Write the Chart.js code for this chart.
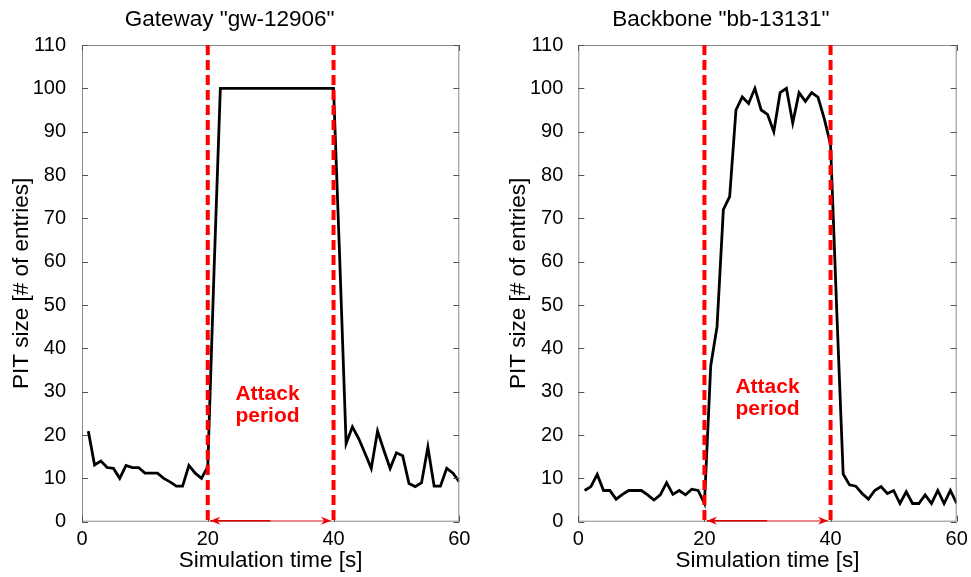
<!DOCTYPE html>
<html>
<head>
<meta charset="utf-8">
<script src="https://cdn.jsdelivr.net/npm/chart.js@4.4.1/dist/chart.umd.min.js"></script>
<style>
  html, body { margin: 0; padding: 0; background: #fff; }
  #wrap { position: relative; width: 971px; height: 577px; overflow: hidden; }
  .box { position: absolute; top: 0; height: 577px; }
</style>
</head>
<body>
<div id="wrap">
  <div class="box" style="left:0;width:485px"><canvas id="gwChart"></canvas></div>
  <div class="box" style="left:485px;width:486px"><canvas id="bbChart"></canvas></div>
</div>
<script>
// simulation time axis (seconds)
const simTime = [1, 2, 3, 4, 5, 6, 7, 8, 9, 10, 11, 12, 13, 14, 15, 16, 17, 18, 19, 20,
  21, 22, 23, 24, 25, 26, 27, 28, 29, 30, 31, 32, 33, 34, 35, 36, 37, 38, 39, 40,
  41, 42, 43, 44, 45, 46, 47, 48, 49, 50, 51, 52, 53, 54, 55, 56, 57, 58, 59, 60];

// PIT size, gateway gw-12906
const gwPitSize = [20.9, 13.1, 14, 12.5, 12.3, 10, 13, 12.5, 12.5, 11.2, 11.2, 11.2, 10, 9.2, 8.2, 8.2, 13, 11.2, 10, 12.7,
  58, 100, 100, 100, 100, 100, 100, 100, 100, 100, 100, 100, 100, 100, 100, 100, 100, 100, 100, 100,
  60, 18, 21.9, 19.2, 15.8, 12.3, 20.9, 16.5, 12.3, 15.9, 15.2, 8.8, 8.1, 9, 17.2, 8.2, 8.2, 12.3, 11.2, 9.2];

// PIT size, backbone bb-13131
const bbPitSize = [7.2, 8.1, 10.9, 7.2, 7.2, 5.2, 6.3, 7.2, 7.2, 7.2, 6.2, 5, 6.2, 9, 6.3, 7.2, 6.2, 7.5, 7.2, 4.2,
  36, 45, 72, 75, 95, 98, 96.5, 100, 95, 94, 90, 99, 100, 92, 99, 97, 99, 98, 93, 87,
  48, 11, 8.5, 8.2, 6.5, 5.2, 7.2, 8.1, 6.5, 7.2, 4.2, 6.9, 4.2, 4.2, 6.2, 4.2, 7.2, 4.2, 7.2, 4.2];

const xTicks = [0, 20, 40, 60];
const yTicks = [0, 10, 20, 30, 40, 50, 60, 70, 80, 90, 100, 110];
const attackStart = 20;
const attackEnd = 40;

const FONT = '"Liberation Sans", Arial, sans-serif';

// frame, inward ticks, attack markers, arrow and label
const attackPlugin = {
    id: 'attack',
    afterDatasetsDraw(chart, args, opts) {
        const { ctx, chartArea: a, scales: { x, y } } = chart;
        ctx.save();

        // box frame
        ctx.strokeStyle = '#8a8a8a';
        ctx.lineWidth = 1;
        ctx.strokeRect(a.left + 0.5, a.top + 0.5, a.width - 1, a.height - 1);

        // inward tick marks
        ctx.strokeStyle = '#555';
        ctx.beginPath();
        yTicks.forEach(v => {
            const py = Math.round(y.getPixelForValue(v)) + 0.5;
            ctx.moveTo(a.left, py); ctx.lineTo(a.left + 6, py);
            ctx.moveTo(a.right, py); ctx.lineTo(a.right - 6, py);
        });
        xTicks.forEach(v => {
            const px = Math.round(x.getPixelForValue(v)) + 0.5;
            ctx.moveTo(px, a.bottom); ctx.lineTo(px, a.bottom - 6);
            ctx.moveTo(px, a.top); ctx.lineTo(px, a.top + 6);
        });
        ctx.stroke();

        // dashed attack boundaries
        ctx.strokeStyle = '#ff0000';
        ctx.lineWidth = 4;
        ctx.setLineDash([10, 5]);
        [attackStart, attackEnd].forEach(v => {
            const px = x.getPixelForValue(v);
            ctx.beginPath();
            ctx.moveTo(px, a.top);
            ctx.lineTo(px, a.bottom);
            ctx.stroke();
        });
        ctx.setLineDash([]);

        // double arrow along the bottom
        const x1 = x.getPixelForValue(attackStart) + 2.5;
        const x2 = x.getPixelForValue(attackEnd) - 2.5;
        const xm = (x1 + x2) / 2;
        const ay = a.bottom - 1;
        ctx.lineWidth = 1.5;
        ctx.strokeStyle = '#e00000';
        ctx.beginPath(); ctx.moveTo(x1, ay); ctx.lineTo(xm, ay); ctx.stroke();
        ctx.strokeStyle = '#ff8080';
        ctx.beginPath(); ctx.moveTo(xm, ay); ctx.lineTo(x2, ay); ctx.stroke();
        ctx.fillStyle = '#ee0000';
        ctx.beginPath();
        ctx.moveTo(x1, ay); ctx.lineTo(x1 + 10, ay - 4); ctx.lineTo(x1 + 7, ay); ctx.lineTo(x1 + 10, ay + 4);
        ctx.closePath(); ctx.fill();
        ctx.beginPath();
        ctx.moveTo(x2, ay); ctx.lineTo(x2 - 10, ay - 4); ctx.lineTo(x2 - 7, ay); ctx.lineTo(x2 - 10, ay + 4);
        ctx.closePath(); ctx.fill();

        // label
        ctx.fillStyle = '#ff0000';
        ctx.font = 'bold 21px ' + FONT;
        ctx.textAlign = 'center';
        ctx.textBaseline = 'alphabetic';
        const lx = x.getPixelForValue(opts.labelX);
        const ly = y.getPixelForValue(opts.labelY);
        ctx.fillText('Attack', lx, ly);
        ctx.fillText('period', lx, ly + 22);

        ctx.restore();
    }
};

function makeChart(id, title, values, o) {
    const ctx = document.getElementById(id);
    return new Chart(ctx, {
        type: 'line',
        data: {
            datasets: [{
                data: simTime.map((t, i) => ({ x: t, y: values[i] })),
                borderColor: '#000',
                borderWidth: 2.8,
                pointRadius: 0,
                tension: 0,
                fill: false
            }]
        },
        options: {
            responsive: true,
            maintainAspectRatio: false,
            animation: false,
            events: [],
            layout: { padding: { left: 0, right: o.padRight, top: 0, bottom: 0 } },
            plugins: {
                legend: { display: false },
                tooltip: { enabled: false },
                title: {
                    display: true,
                    text: title,
                    color: '#000',
                    font: { family: FONT, size: 22.5, weight: 'normal' },
                    padding: { top: 6.5, bottom: 11.5 }
                },
                attack: { labelX: o.labelX, labelY: o.labelY }
            },
            scales: {
                x: {
                    type: 'linear',
                    min: 0,
                    max: 60,
                    afterBuildTicks: s => { s.ticks = xTicks.map(v => ({ value: v })); },
                    afterFit: s => { s.height = 55.3; },
                    grid: { display: false },
                    border: { display: false },
                    ticks: { color: '#000', padding: -2, font: { family: FONT, size: 20 } },
                    title: {
                        display: true,
                        text: 'Simulation time [s]',
                        color: '#000',
                        font: { family: FONT, size: 22.5 },
                        padding: { top: 0, bottom: 2.5 }
                    }
                },
                y: {
                    min: 0,
                    max: 110,
                    afterBuildTicks: s => { s.ticks = yTicks.map(v => ({ value: v })); },
                    afterFit: s => { s.width = o.yWidth; },
                    grid: { display: false },
                    border: { display: false },
                    ticks: { color: '#000', padding: o.tickPad, font: { family: FONT, size: 20 } },
                    title: {
                        display: true,
                        text: 'PIT size [# of entries]',
                        color: '#000',
                        font: { family: FONT, size: 22.5 },
                        padding: { top: o.titlePad, bottom: 0 }
                    }
                }
            }
        },
        plugins: [attackPlugin]
    });
}

makeChart('gwChart', 'Gateway "gw-12906"', gwPitSize,
    { yWidth: 82, padRight: 25.7, tickPad: 8, titlePad: 8.5, labelX: 29.5, labelY: 28 });
makeChart('bbChart', 'Backbone "bb-13131"', bbPitSize,
    { yWidth: 93.3, padRight: 14.3, tickPad: 7, titlePad: 20.5, labelX: 30, labelY: 29.8 });
</script>
</body>
</html>
